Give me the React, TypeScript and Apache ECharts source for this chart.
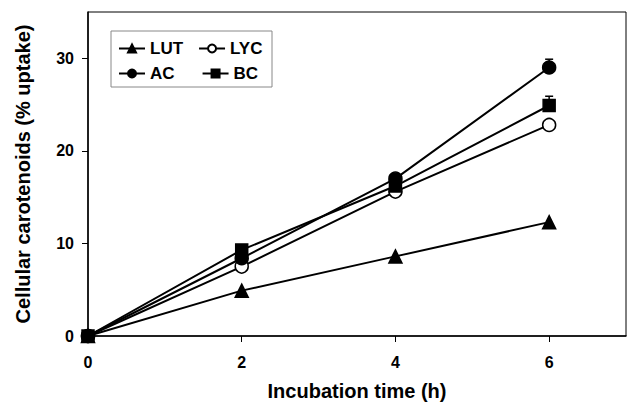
import React, { useEffect, useRef } from "react";
import * as echarts from "echarts";

const hours = [0, 2, 4, 6];
const lut = [0, 4.9, 8.6, 12.3];
const lyc = [0, 7.5, 15.6, 22.8];
const ac = [0, 8.4, 17.0, 29.0];
const bc = [0, 9.3, 16.2, 24.9];
// error bars: [x, mean, upper]
const errAC = [6, 29.0, 29.9];
const errBC = [6, 24.9, 25.9];
const xTicks = [0, 2, 4, 6];
const yTicks = [0, 10, 20, 30];

const FONT = "Liberation Sans";

export default function App() {
  const ref = useRef<HTMLDivElement>(null);
  useEffect(() => {
    const chart = echarts.init(ref.current!, null, { renderer: "svg" });
    const pts = (ys: number[]) => hours.map((h, i) => [h, ys[i]]);
    const lineBase = {
      type: "line",
      symbolSize: 13,
      lineStyle: { color: "#000", width: 2 },
      itemStyle: { color: "#000", borderColor: "#000", borderWidth: 1.5 },
      z: 3,
    };
    const legendText = { fontFamily: FONT, fontWeight: "bold", fontSize: 17, color: "#000" };
    chart.setOption({
      animation: false,
      backgroundColor: "#fff",
      textStyle: { fontFamily: FONT },
      grid: {
        left: 88,
        top: 12,
        right: 9,
        bottom: 71,
        show: true,
        borderColor: "#000",
        borderWidth: 1,
      },
      legend: [
        {
          data: ["LUT", "LYC"],
          left: 118,
          top: 40,
          padding: 0,
          itemGap: 15,
          itemWidth: 26,
          itemHeight: 10,
          textStyle: legendText,
          selectedMode: false,
        },
        {
          data: ["AC", "BC"],
          left: 118,
          top: 65,
          padding: 0,
          itemGap: 27,
          itemWidth: 26,
          itemHeight: 10,
          textStyle: legendText,
          selectedMode: false,
        },
      ],
      graphic: [
        {
          type: "rect",
          shape: { x: 111, y: 31, width: 161, height: 56 },
          style: { fill: "none", stroke: "#888", lineWidth: 1 },
          z: 10,
        },
      ],
      xAxis: {
        type: "value",
        min: 0,
        max: 7,
        name: "Incubation time (h)",
        nameLocation: "middle",
        nameGap: 45,
        nameTextStyle: { fontFamily: FONT, fontWeight: "bold", fontSize: 20, color: "#000" },
        axisLine: { lineStyle: { color: "#000", width: 1.5 } },
        axisTick: { show: true, length: 6, customValues: xTicks, lineStyle: { color: "#000" } },
        axisLabel: {
          customValues: xTicks,
          margin: 18,
          fontFamily: FONT,
          fontWeight: "bold",
          fontSize: 16,
          color: "#000",
        },
        splitLine: { show: false },
      },
      yAxis: {
        type: "value",
        min: 0,
        max: 35,
        name: "Cellular carotenoids (% uptake)",
        nameLocation: "middle",
        nameGap: 55,
        nameTextStyle: { fontFamily: FONT, fontWeight: "bold", fontSize: 20, color: "#000" },
        axisLine: { show: true, lineStyle: { color: "#000", width: 1.5 } },
        axisTick: { show: true, length: 6, customValues: yTicks, lineStyle: { color: "#000" } },
        axisLabel: {
          customValues: yTicks,
          margin: 14,
          fontFamily: FONT,
          fontWeight: "bold",
          fontSize: 16,
          color: "#000",
        },
        splitLine: { show: false },
      },
      series: [
        {
          type: "custom",
          name: "err",
          z: 2,
          renderItem: (params: any, api: any) => {
            const x = api.value(0);
            const lo = api.coord([x, api.value(1)]);
            const hi = api.coord([x, api.value(2)]);
            return {
              type: "group",
              children: [
                { type: "line", shape: { x1: lo[0], y1: lo[1], x2: hi[0], y2: hi[1] }, style: { stroke: "#000", lineWidth: 1.5 } },
                { type: "line", shape: { x1: hi[0] - 4, y1: hi[1], x2: hi[0] + 4, y2: hi[1] }, style: { stroke: "#000", lineWidth: 1.5 } },
              ],
            };
          },
          data: [errAC, errBC],
        },
        { ...lineBase, name: "LUT", symbol: "triangle", data: pts(lut) },
        {
          ...lineBase,
          name: "LYC",
          symbol: "circle",
          itemStyle: { color: "#fff", borderColor: "#000", borderWidth: 1.5 },
          data: pts(lyc),
        },
        { ...lineBase, name: "AC", symbol: "circle", data: pts(ac) },
        { ...lineBase, name: "BC", symbol: "rect", symbolSize: 12, data: pts(bc) },
      ],
    });
    return () => chart.dispose();
  }, []);
  return <div ref={ref} style={{ width: 635, height: 407, position: "absolute", left: 0, top: 0 }} />;
}
